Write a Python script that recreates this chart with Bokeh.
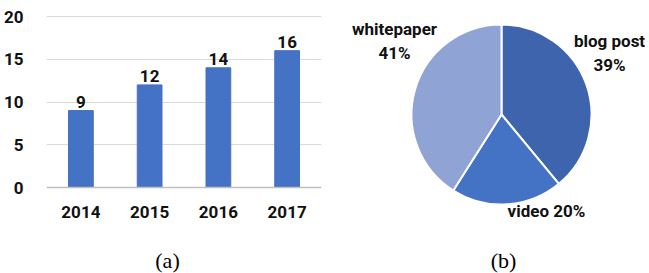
import numpy as np
from bokeh.plotting import figure
from bokeh.layouts import row
from bokeh.models import Range1d, ColumnDataSource, Span
from bokeh.core.properties import value
from bokeh.embed import file_html
from bokeh.resources import INLINE

# ---- data ----
years = ["2014", "2015", "2016", "2017"]
counts = [9, 12, 14, 16]
y_ticks = [0, 5, 10, 15, 20]

content_types = ["blog post", "video", "whitepaper"]
shares = [39, 20, 41]
label_sep = ["\n", " ", "\n"]

# ---- style ----
FONT = "Roboto"
CAP_FONT = "Liberation Serif"
FS = "17px"
BAR_COLOR = "#4472C4"
PIE_COLORS = ["#3E64AD", "#4472C4", "#8FA3D4"]
TXT = "#111111"
H = 273

# ---- (a) bar chart ----
# frame spans the full height; value axis scaled 8.55 px per unit, 0 at y=187 px
PX = 8.55
y_lo = -(H - 187) / PX
y_hi = 20 + 16 / PX
p1 = figure(x_range=years, y_range=Range1d(y_lo, y_hi), width=333, height=H,
            min_border_left=44, min_border_right=12, min_border_top=0,
            min_border_bottom=0, output_backend="svg", toolbar_location=None)
src = ColumnDataSource(dict(x=years, top=counts, lbl=[str(c) for c in counts],
                            zero=[0] * len(years)))
p1.vbar(x="x", top="top", bottom=0, width=0.36, source=src, color=BAR_COLOR)
p1.text(x="x", y="top", text="lbl", source=src, text_align="center",
        text_baseline="bottom", y_offset=-3, text_font=value(FONT),
        text_font_style="bold", text_font_size=FS, text_color=TXT)
# category labels under the baseline
p1.text(x="x", y="zero", text="x", source=src, text_align="center",
        text_baseline="middle", y_offset=24, text_font=value(FONT),
        text_font_style="bold", text_font_size=FS, text_color=TXT)
p1.add_layout(Span(location=0, dimension="width", line_color="#BFBFBF", line_width=1.5))
p1.text(x=[1.76], y=[0], text=["(a)"], text_align="center", text_baseline="middle",
        y_offset=73, text_font=value(CAP_FONT), text_font_size="22px",
        text_color="#000000")
p1.outline_line_color = None
p1.xaxis.visible = False
p1.xgrid.grid_line_color = None
p1.ygrid.grid_line_color = "#D9D9D9"
p1.ygrid.ticker = y_ticks
p1.yaxis.ticker = y_ticks
p1.yaxis.axis_line_color = None
p1.yaxis.major_tick_line_color = None
p1.yaxis.minor_tick_line_color = None
p1.yaxis.major_label_standoff = 17
p1.yaxis.major_label_text_font = FONT
p1.yaxis.major_label_text_font_style = "bold"
p1.yaxis.major_label_text_font_size = FS
p1.yaxis.major_label_text_color = TXT

# ---- (b) pie chart ----
W2 = 316
p2 = figure(x_range=Range1d(0, W2), y_range=Range1d(0, H), width=W2, height=H,
            min_border=0, output_backend="svg", toolbar_location=None)
cx, cy, R = 168, 159, 90
frac = np.array(shares) / sum(shares)
cum = np.concatenate([[0], np.cumsum(frac)])
# clockwise from the top
start = np.pi / 2 - cum[1:] * 2 * np.pi
end = np.pi / 2 - cum[:-1] * 2 * np.pi
p2.wedge(x=cx, y=cy, radius=R, start_angle=start, end_angle=end,
         fill_color=PIE_COLORS, line_color="white", line_width=2)
label_txt = [f"{n}{s}{v}%" for n, s, v in zip(content_types, label_sep, shares)]
label_dx = [108, 45, -107]
label_dy = [62, -96, 74]
p2.text(x=[cx + d for d in label_dx], y=[cy + d for d in label_dy], text=label_txt,
        text_align="center", text_baseline="middle", text_line_height=1.2,
        text_font=value(FONT), text_font_style="bold", text_font_size=FS,
        text_color=TXT)
p2.text(x=[170], y=[13], text=["(b)"], text_align="center", text_baseline="middle",
        text_font=value(CAP_FONT), text_font_size="22px", text_color="#000000")
p2.axis.visible = False
p2.grid.visible = False
p2.outline_line_color = None

open("out.html", "w").write(file_html(row(p1, p2), INLINE))
